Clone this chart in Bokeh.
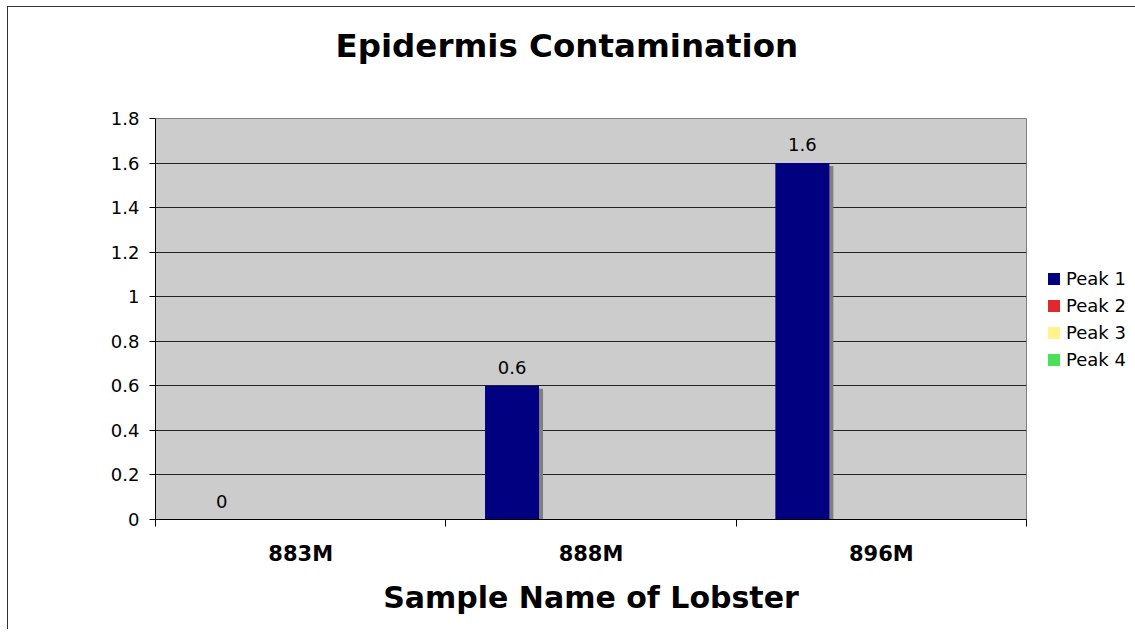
from bokeh.plotting import figure
from bokeh.models import (Range1d, FixedTicker, NumeralTickFormatter, ColumnDataSource,
                          LabelSet, Legend, LegendItem, Title)
from bokeh.core.properties import value
from bokeh.transform import dodge
from bokeh.embed import file_html
from bokeh.resources import INLINE

# ---- data ----
categories = ["883M", "888M", "896M"]
series_names = ["Peak 1", "Peak 2", "Peak 3", "Peak 4"]
peak1 = [0, 0.6, 1.6]
peak2 = [0, 0, 0]
peak3 = [0, 0, 0]
peak4 = [0, 0, 0]
peak1_labels = ["0", "0.6", "1.6"]
y_ticks = [0, 0.2, 0.4, 0.6, 0.8, 1.0, 1.2, 1.4, 1.6, 1.8]
colors = ["#000080", "#E0282F", "#FFF38A", "#4CDF58"]
title_text = "Epidermis Contamination"
x_title = "Sample Name of Lobster"

FONT = "DejaVu Sans"

xs = [i + 0.5 for i in range(len(categories))]
src = ColumnDataSource(dict(x=xs, cat=categories, p1=peak1, p2=peak2, p3=peak3, p4=peak4,
                            lab=peak1_labels))

p = figure(frame_width=871, frame_height=401, output_backend="svg", toolbar_location=None,
           x_range=Range1d(0, len(categories)), y_range=Range1d(y_ticks[0], y_ticks[-1]),
           min_border_left=147, min_border_right=107, min_border_top=111, min_border_bottom=110)
p.title_location = None
p.styles = {"border-left": "1px solid #333333", "border-top": "1px solid #333333",
            "margin-left": "7px", "margin-top": "6px"}

p.background_fill_color = "#CCCCCC"
p.border_fill_color = "white"
p.outline_line_color = "#808080"
p.outline_line_width = 1

# title (a thin spacer title keeps the main title clear of the plot area)
spacer = Title(text=" ", text_font_size="1px", standoff=51)
p.add_layout(spacer, "above")
main_title = Title(text=title_text, text_font=FONT, text_font_size="32.5px",
                   text_font_style="bold", text_color="black", align="left",
                   offset=180, standoff=0)
p.add_layout(main_title, "above")

# grid
p.xgrid.visible = False
p.ygrid.ticker = FixedTicker(ticks=y_ticks[1:-1])
p.ygrid.grid_line_color = "#222222"
p.ygrid.grid_line_width = 1

# x axis
xa = p.xaxis[0]
xa.ticker = FixedTicker(ticks=xs, minor_ticks=list(range(len(categories) + 1)))
xa.major_label_overrides = {x: c for x, c in zip(xs, categories)}
xa.major_tick_out = 0
xa.major_tick_in = 0
xa.minor_tick_out = 7
xa.minor_tick_in = 0
xa.minor_tick_line_color = "black"
xa.axis_line_color = "black"
xa.major_label_text_font = FONT
xa.major_label_text_font_size = "21px"
xa.major_label_text_font_style = "bold"
xa.major_label_text_color = "black"
xa.major_label_standoff = 15
xa.axis_label = x_title
xa.axis_label_text_font = FONT
xa.axis_label_text_font_size = "30px"
xa.axis_label_text_font_style = "bold"
xa.axis_label_text_color = "black"
xa.axis_label_standoff = 11

# y axis
ya = p.yaxis[0]
ya.ticker = FixedTicker(ticks=y_ticks)
ya.formatter = NumeralTickFormatter(format="0.[0]")
ya.major_tick_out = 6
ya.major_tick_in = 0
ya.minor_tick_out = 0
ya.minor_tick_in = 0
ya.axis_line_color = "black"
ya.major_tick_line_color = "black"
ya.major_label_text_font = FONT
ya.major_label_text_font_size = "18px"
ya.major_label_text_color = "black"
ya.major_label_standoff = 10

# bars
bar_w = 0.186
first_off = -0.272
shadow_dx = 0.0138
shadow_dy = -0.0135
fields = ["p1", "p2", "p3", "p4"]
renderers = []
for i, (f, c) in enumerate(zip(fields, colors)):
    off = first_off + i * bar_w
    p.vbar(x=dodge("x", off + shadow_dx), top=dodge(f, shadow_dy), bottom=0, width=bar_w,
           source=src, fill_color="#808080", line_color=None)
    r = p.vbar(x=dodge("x", off), top=f, bottom=0, width=bar_w, source=src,
               fill_color=c, line_color=None)
    renderers.append(r)

labels = LabelSet(x=dodge("x", first_off), y="p1", text="lab", source=src,
                  text_align="center", text_baseline="alphabetic", y_offset=12,
                  text_font=value(FONT), text_font_size="18px", text_color="black")
p.add_layout(labels)

legend = Legend(items=[LegendItem(label=n, renderers=[r]) for n, r in zip(series_names, renderers)],
                location=(20, 149), orientation="vertical")
legend.border_line_color = None
legend.background_fill_alpha = 0
legend.padding = 0
legend.margin = 0
legend.spacing = 6
legend.glyph_width = 15
legend.glyph_height = 15
legend.label_standoff = 5
legend.label_text_font = FONT
legend.label_text_font_size = "18px"
legend.label_text_color = "black"
p.add_layout(legend, "right")

open("out.html", "w").write(file_html(p, INLINE))
